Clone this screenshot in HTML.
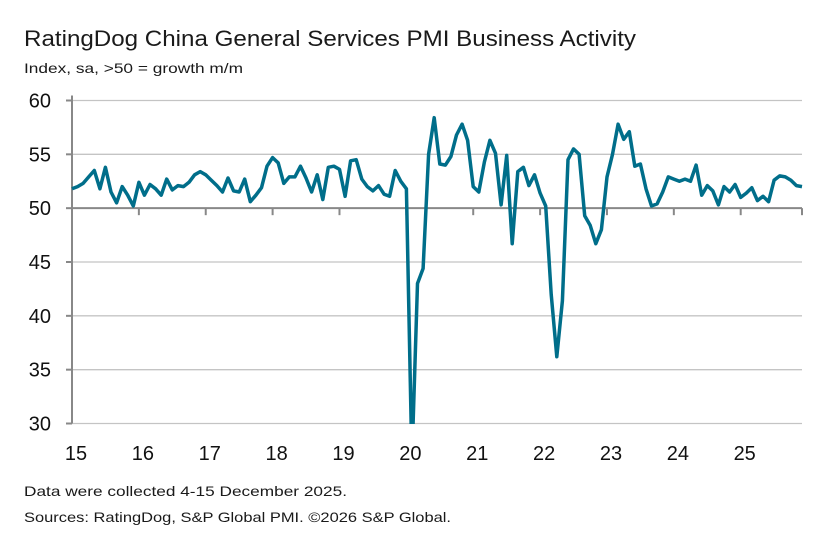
<!DOCTYPE html>
<html><head><meta charset="utf-8"><style>
body{margin:0;background:#fff;}
svg text{font-family:"Liberation Sans",sans-serif;}
</style></head><body>
<svg width="838" height="554" viewBox="0 0 838 554">
<text x="24" y="46" font-size="22" fill="#1a1a1a" textLength="612" lengthAdjust="spacingAndGlyphs">RatingDog China General Services PMI Business Activity</text>
<text x="24" y="73" font-size="14" fill="#1a1a1a" textLength="219" lengthAdjust="spacingAndGlyphs">Index, sa, &gt;50 = growth m/m</text>
<g id="grid"></g><g id="yaxis"></g><g id="xaxis"></g>
<defs><clipPath id="clip"><rect x="60" y="90" width="760" height="334"/></clipPath></defs>
<path id="line" fill="none" stroke="#006e8a" stroke-width="3.5" stroke-linejoin="round" clip-path="url(#clip)"/>
<text x="24" y="496" font-size="14" fill="#1a1a1a" textLength="323" lengthAdjust="spacingAndGlyphs">Data were collected 4-15 December 2025.</text>
<text x="24" y="522" font-size="14" fill="#1a1a1a" textLength="427" lengthAdjust="spacingAndGlyphs">Sources: RatingDog, S&amp;P Global PMI. ©2026 S&amp;P Global.</text>
</svg>
<script>
const years=["15","16","17","18","19","20","21","22","23","24","25"];
const yTicks=[30,35,40,45,50,55,60];
const pmi=[51.8,52.0,52.3,52.9,53.5,51.8,53.8,51.5,50.5,52.0,51.2,50.2,
52.4,51.2,52.2,51.8,51.2,52.7,51.7,52.1,52.0,52.4,53.1,53.4,
53.1,52.6,52.1,51.5,52.8,51.6,51.5,52.7,50.6,51.2,51.9,53.9,
54.7,54.2,52.3,52.9,52.9,53.9,52.8,51.5,53.1,50.8,53.8,53.9,
53.6,51.1,54.4,54.5,52.7,52.0,51.6,52.1,51.3,51.1,53.5,52.5,
51.8,26.5,43.0,44.4,55.0,58.4,54.1,54.0,54.8,56.8,57.8,56.3,
52.0,51.5,54.3,56.3,55.1,50.3,54.9,46.7,53.4,53.8,52.1,53.1,
51.4,50.2,42.0,36.2,41.4,54.5,55.5,55.0,49.3,48.4,46.7,48.0,
52.9,55.0,57.8,56.4,57.1,53.9,54.1,51.8,50.2,50.4,51.5,52.9,
52.7,52.5,52.7,52.5,54.0,51.2,52.1,51.6,50.3,52.0,51.5,52.2,
51.0,51.4,51.9,50.7,51.1,50.6,52.6,53.0,52.9,52.6,52.1,52.0];
const X0=72,X1=802,Y60=100.5,Y30=423.5;
const yS=v=>Y30+(v-30)*(Y60-Y30)/30;
const xS=i=>X0+i*(X1-X0)/(pmi.length-1);
const yearW=12*(X1-X0)/(pmi.length-1);
const NS="http://www.w3.org/2000/svg";
function mk(t,a,p){const e=document.createElementNS(NS,t);for(const k in a)e.setAttribute(k,a[k]);p.appendChild(e);return e;}
const grid=document.getElementById('grid'),ya=document.getElementById('yaxis'),xa=document.getElementById('xaxis');
yTicks.forEach(v=>{
 const y=yS(v);
 if(v!==50){const g=mk('line',{x1:X0,x2:X1,y1:y,y2:y,stroke:'#c4c4c4','stroke-width':1.3},grid);
 
 }
 const t=mk('line',{x1:X0-6,x2:X0,y1:y,y2:y,stroke:'#888','stroke-width':2},ya);
 
 
 const l=mk('text',{x:51,y:y+7,'font-size':20,'text-anchor':'end',fill:'#111'},ya);
 l.textContent=v;
 
 
});
const yl=mk('line',{x1:X0,x2:X0,y1:yS(60)-5,y2:Y30,stroke:'#888','stroke-width':2},ya);


const xl=mk('line',{x1:X0,x2:X1,y1:yS(50),y2:yS(50),stroke:'#888','stroke-width':2},xa);


for(let k=1;k<=years.length;k++){
 const x=Math.min(X0+k*yearW,X1);
 const t=mk('line',{x1:x,x2:x,y1:yS(50),y2:yS(50)+7,stroke:'#888','stroke-width':2},xa);
 
 
}
years.forEach((yr,k)=>{
 const l=mk('text',{x:X0+k*yearW+4,y:460,'font-size':20,'text-anchor':'middle',fill:'#111'},xa);
 l.textContent=yr;
 
 
});
document.getElementById('line').setAttribute('d',pmi.map((v,i)=>(i?'L':'M')+xS(i).toFixed(1)+','+yS(v).toFixed(1)).join(''));
</script>
</body></html>
